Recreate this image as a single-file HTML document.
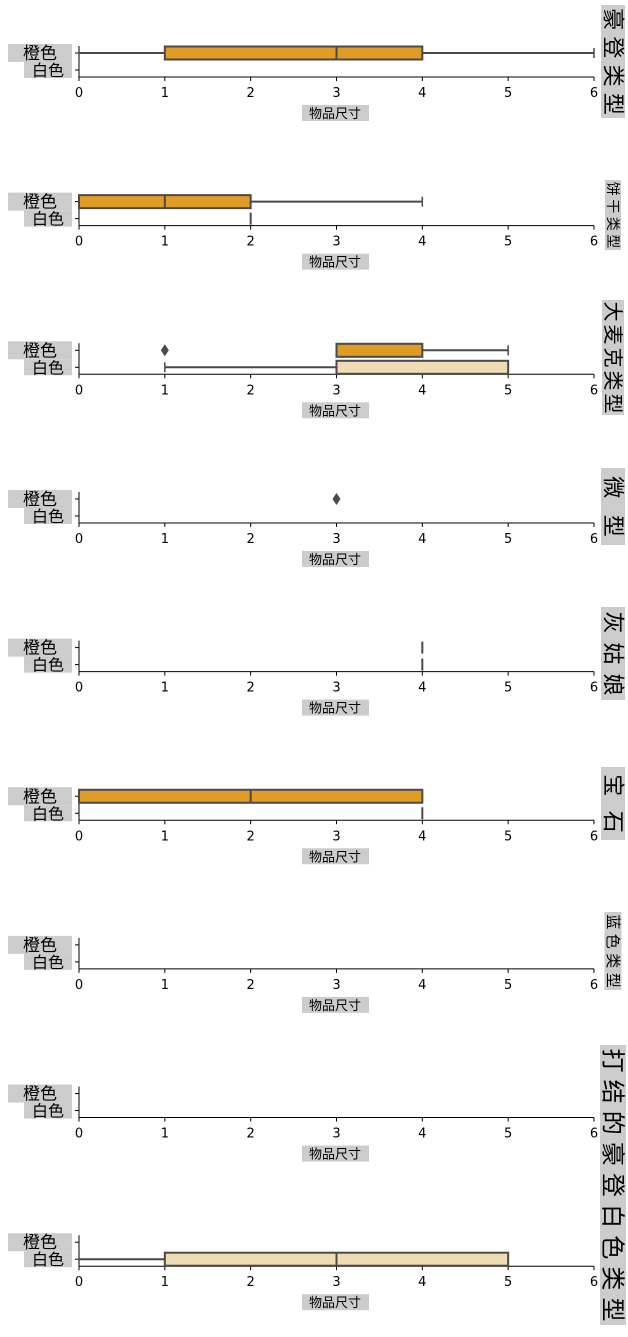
<!DOCTYPE html>
<html><head><meta charset="utf-8">
<style>
html,body{margin:0;padding:0;background:#fff;}
svg{display:block;font-family:"DejaVu Sans","Noto Sans CJK SC",sans-serif;}
</style></head>
<body>
<svg id="s" width="628" height="1337" viewBox="0 0 628 1337" xmlns="http://www.w3.org/2000/svg"></svg>
<script>
const s=document.getElementById('s');
let h='';
const X=v=>79+v*85.83;
const OR='#e09c24', WH='#f0dcb4', LC='#4a4a4a';
const panels=[
 {o:{wl:0,q1:1,md:3,q3:4,wh:6}},
 {o:{wl:0,q1:0,md:1,q3:2,wh:4}, w:{line:2}},
 {o:{q1:3,md:3,q3:4,wh:5,wl:3,out:1}, w:{wl:1,q1:3,md:3,q3:5,wh:5}},
 {o:{out:3}},
 {o:{line:4}, w:{line:4}},
 {o:{wl:0,q1:0,md:2,q3:4,wh:4}, w:{line:4}},
 {},
 {},
 {w:{wl:0,q1:1,md:3,q3:5,wh:5}}
];
function box(d,cy,fill){
  if(!d)return;
  if(d.line!==undefined){h+=`<line x1="${X(d.line)}" y1="${cy-6}" x2="${X(d.line)}" y2="${cy+6}" stroke="${LC}" stroke-width="2"/>`;}
  if(d.q1!==undefined){
    h+=`<line x1="${X(d.wl)}" y1="${cy}" x2="${X(d.q1)}" y2="${cy}" stroke="${LC}" stroke-width="2"/>`;
    h+=`<line x1="${X(d.q3)}" y1="${cy}" x2="${X(d.wh)}" y2="${cy}" stroke="${LC}" stroke-width="2"/>`;
    h+=`<line x1="${X(d.wl)}" y1="${cy-5}" x2="${X(d.wl)}" y2="${cy+5}" stroke="${LC}" stroke-width="1.5"/>`;
    h+=`<line x1="${X(d.wh)}" y1="${cy-5}" x2="${X(d.wh)}" y2="${cy+5}" stroke="${LC}" stroke-width="1.5"/>`;
    h+=`<rect x="${X(d.q1)}" y="${cy-6.5}" width="${X(d.q3)-X(d.q1)}" height="13" fill="${fill}" stroke="${LC}" stroke-width="2"/>`;
    h+=`<line x1="${X(d.md)}" y1="${cy-6.5}" x2="${X(d.md)}" y2="${cy+6.5}" stroke="${LC}" stroke-width="2"/>`;
  }
  if(d.out!==undefined){h+=`<path d="M${X(d.out)} ${cy-6} L${X(d.out)+4} ${cy} L${X(d.out)} ${cy+6} L${X(d.out)-4} ${cy} Z" fill="${LC}"/>`;}
}
panels.forEach((p,i)=>{
  const ay=77+i*148.65;
  const oy=ay-24, wy=ay-7;
  h+=`<line x1="79" y1="${ay-31}" x2="79" y2="${ay}" stroke="#000" stroke-width="1"/>`;
  h+=`<line x1="79" y1="${ay}" x2="594" y2="${ay}" stroke="#000" stroke-width="1"/>`;
  h+=`<line x1="75" y1="${oy}" x2="79" y2="${oy}" stroke="#000"/><line x1="75" y1="${wy}" x2="79" y2="${wy}" stroke="#000"/>`;
  for(let t=0;t<=6;t++){
    h+=`<line x1="${X(t)}" y1="${ay}" x2="${X(t)}" y2="${ay+4}" stroke="#000"/>`;
    h+=`<text x="${X(t)}" y="${ay+20}" font-size="13" text-anchor="middle">${t}</text>`;
  }
  h+=`<rect x="8" y="${oy-9}" width="64" height="18" fill="#ccc"/><text x="40" y="${oy+6}" font-size="17" text-anchor="middle">橙色</text>`;
  h+=`<rect x="24" y="${wy-8}" width="48" height="16" fill="#ccc"/><text x="48" y="${wy+6}" font-size="16" text-anchor="middle">白色</text>`;
  h+=`<rect x="302" y="${ay+28}" width="67" height="16" fill="#ccc"/><text x="335" y="${ay+41}" font-size="13" text-anchor="middle">物品尺寸</text>`;
  box(p.o,oy,OR); box(p.w,wy,WH);
});
const rl=[[5,118,'豪登类型',22],[180,250,'饼干类型',14],[300,415,'大麦克类型',20],[468,545,'微型',22],[607,700,'灰姑娘',22],[767,840,'宝石',22],[912,990,'蓝色类型',15],[1045,1325,'打结的豪登白色类型',24]];
rl.forEach(([a,b,t,fs])=>{
  h+=`<rect x="${613-fs/2-1}" y="${a}" width="${fs+2}" height="${b-a}" fill="#ccc"/>`;
  const step=(b-a)/t.length;
  for(let k=0;k<t.length;k++){
    h+=`<text x="613" y="${a+step*(k+0.5)+fs*0.35}" font-size="${Math.min(fs,step)}" text-anchor="middle" transform="rotate(90 613 ${a+step*(k+0.5)})">${t[k]}</text>`;
  }
});
s.innerHTML=h;
</script>
</body></html>
